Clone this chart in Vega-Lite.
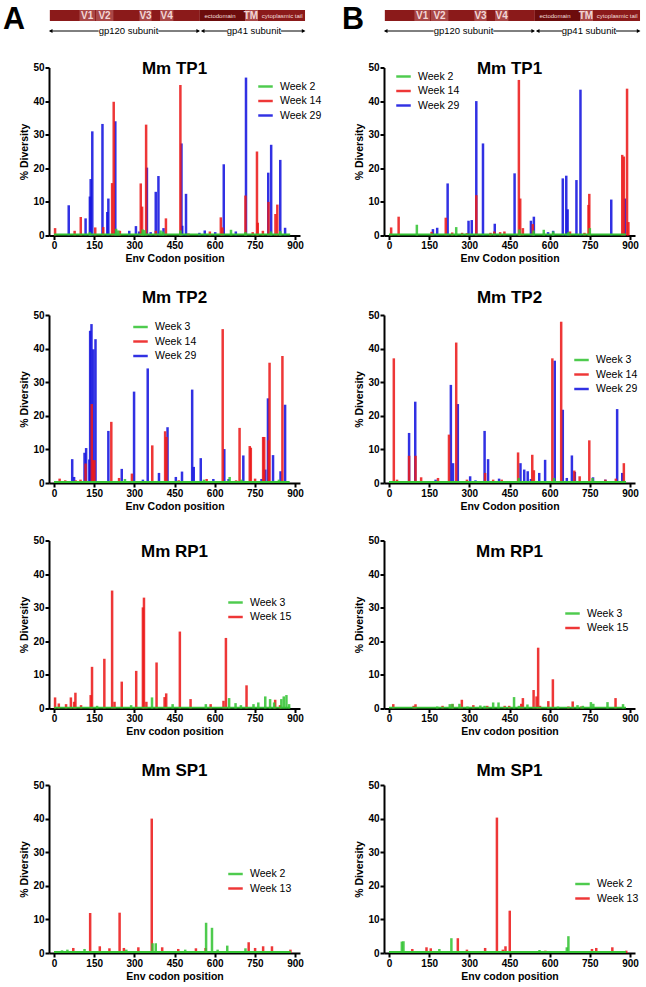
{
"$schema": "https://vega.github.io/schema/vega-lite/v6.json",
"padding": {"left": 2, "top": 0, "right": 1, "bottom": 2},
"columns": 2,
"spacing": {"row": 23.5, "column": 19},
"resolve": {"scale": {"x": "independent", "y": "independent", "color": "independent", "shape": "independent"}, "axis": {"x": "independent", "y": "independent"}, "legend": {"color": "independent", "shape": "independent"}},
"config": {
 "view": {"stroke": null},
 "font": "Liberation Sans",
 "axis": {"grid": false, "domainColor": "black", "domainWidth": 2, "tickColor": "black", "tickWidth": 2, "tickSize": 4, "labelFont": "Liberation Sans", "labelFontWeight": "bold", "labelFontSize": 10, "labelColor": "black", "labelPadding": 1, "labelFlush": false, "labelOverlap": false, "titleFont": "Liberation Sans", "titleFontWeight": "bold", "titleFontSize": 10.5, "titleColor": "black", "titlePadding": 3},
 "legend": {"labelFont": "Liberation Sans", "labelFontSize": 10.5, "labelColor": "black", "symbolType": "M-1,-0.17H1V0.17H-1Z", "symbolSize": 210, "symbolStrokeWidth": 0, "rowPadding": 1.5, "labelOffset": 7, "padding": 0},
 "title": {"font": "Liberation Sans", "fontSize": 17, "fontWeight": "bold", "color": "black"}
},
"datasets": {
 "genome": [
  {"seg": "gp120 constant", "kind": "base", "start": 3, "end": 541, "mid": 270, "label": ""},
  {"seg": "V1", "kind": "var", "start": 109, "end": 165, "mid": 137, "label": "V1"},
  {"seg": "V2", "kind": "var", "start": 168, "end": 231, "mid": 199, "label": "V2"},
  {"seg": "V3", "kind": "var", "start": 324, "end": 368, "mid": 346, "label": "V3"},
  {"seg": "V4", "kind": "var", "start": 398, "end": 446, "mid": 422, "label": "V4"},
  {"seg": "ectodomain", "kind": "ecto", "start": 541, "end": 703, "mid": 613, "label": "ectodomain"},
  {"seg": "TM", "kind": "tm", "start": 703, "end": 747, "mid": 724, "label": "TM"},
  {"seg": "cytoplasmic tail", "kind": "tail", "start": 747, "end": 918, "mid": 836, "label": "cytoplasmic tail"}
 ],
 "arrows": [
  {"subunit": "gp120", "from": 4, "to": 178},
  {"subunit": "gp120", "from": 392, "to": 537},
  {"subunit": "gp41", "from": 549, "to": 638},
  {"subunit": "gp41", "from": 832, "to": 915}
 ],
 "heads": [
  {"subunit": "gp120", "pos": 6, "dir": "left"},
  {"subunit": "gp120", "pos": 535, "dir": "right"},
  {"subunit": "gp41", "pos": 551, "dir": "left"},
  {"subunit": "gp41", "pos": 913, "dir": "right"}
 ],
 "subunits": [
  {"pos": 285, "label": "gp120 subunit"},
  {"pos": 735, "label": "gp41 subunit"}
 ],
 "floors": [
  {"panel": "tp1a", "week": "Week 2", "from": 0, "to": 882, "level": 0.6},
  {"panel": "tp1b", "week": "Week 2", "from": 0, "to": 885, "level": 0.6},
  {"panel": "tp2a", "week": "Week 3", "from": 0, "to": 880, "level": 0.6},
  {"panel": "tp2b", "week": "Week 3", "from": 0, "to": 885, "level": 0.6},
  {"panel": "rp1a", "week": "Week 3", "from": 0, "to": 882, "level": 0.5},
  {"panel": "rp1b", "week": "Week 3", "from": 0, "to": 885, "level": 0.5},
  {"panel": "sp1a", "week": "Week 2", "from": 0, "to": 885, "level": 0.6},
  {"panel": "sp1b", "week": "Week 2", "from": 0, "to": 885, "level": 0.6}
 ],
 "tp1a": [
  {"week":"Week 29","pos":55,"val":9},{"week":"Week 29","pos":118,"val":5.1},{"week":"Week 29","pos":134,"val":11.6},{"week":"Week 29","pos":137,"val":16.8},{"week":"Week 29","pos":143,"val":31},{"week":"Week 29","pos":181,"val":33.2},{"week":"Week 29","pos":199,"val":7},{"week":"Week 29","pos":203,"val":11},{"week":"Week 29","pos":229,"val":34},{"week":"Week 29","pos":281,"val":1.4},{"week":"Week 29","pos":306,"val":2.8},{"week":"Week 29","pos":318,"val":1.2},{"week":"Week 29","pos":347,"val":20.2},{"week":"Week 29","pos":361,"val":1},{"week":"Week 29","pos":380,"val":13},{"week":"Week 29","pos":390,"val":17.7},{"week":"Week 29","pos":409,"val":2.2},{"week":"Week 29","pos":476,"val":27.4},{"week":"Week 29","pos":479,"val":2.9},{"week":"Week 29","pos":493,"val":12.4},{"week":"Week 29","pos":543,"val":0.8},{"week":"Week 29","pos":563,"val":1.5},{"week":"Week 29","pos":602,"val":1},{"week":"Week 29","pos":634,"val":21.2},{"week":"Week 29","pos":679,"val":1.2},{"week":"Week 29","pos":717,"val":47},{"week":"Week 29","pos":800,"val":18.7},{"week":"Week 29","pos":811,"val":27},{"week":"Week 29","pos":845,"val":22.5},{"week":"Week 29","pos":863,"val":2.3},
  {"week":"Week 14","pos":4,"val":2.2},{"week":"Week 14","pos":77,"val":1.4},{"week":"Week 14","pos":100,"val":5.5},{"week":"Week 14","pos":154,"val":2.4},{"week":"Week 14","pos":184,"val":2.5},{"week":"Week 14","pos":217,"val":15.6},{"week":"Week 14","pos":223,"val":39.8},{"week":"Week 14","pos":246,"val":1.4},{"week":"Week 14","pos":324,"val":15.5},{"week":"Week 14","pos":329,"val":8.6},{"week":"Week 14","pos":344,"val":33},{"week":"Week 14","pos":380,"val":1.4},{"week":"Week 14","pos":418,"val":5.1},{"week":"Week 14","pos":472,"val":44.8},{"week":"Week 14","pos":502,"val":0.6},{"week":"Week 14","pos":582,"val":1.2},{"week":"Week 14","pos":623,"val":5.4},{"week":"Week 14","pos":629,"val":2.4},{"week":"Week 14","pos":715,"val":11.9},{"week":"Week 14","pos":742,"val":1},{"week":"Week 14","pos":758,"val":25},{"week":"Week 14","pos":761,"val":3.8},{"week":"Week 14","pos":780,"val":1.4},{"week":"Week 14","pos":801,"val":10},{"week":"Week 14","pos":827,"val":6.4},{"week":"Week 14","pos":834,"val":9.2},
  {"week":"Week 2","pos":134,"val":1},{"week":"Week 2","pos":232,"val":2},{"week":"Week 2","pos":240,"val":1.5},{"week":"Week 2","pos":331,"val":1.8},{"week":"Week 2","pos":338,"val":1.6},{"week":"Week 2","pos":398,"val":1.5},{"week":"Week 2","pos":407,"val":1.2},{"week":"Week 2","pos":472,"val":1.5},{"week":"Week 2","pos":661,"val":1.7},{"week":"Week 2","pos":715,"val":1},{"week":"Week 2","pos":810,"val":1.2},{"week":"Week 2","pos":845,"val":1.3}
 ],
 "tp1b": [
  {"week":"Week 29","pos":164,"val":1.9},{"week":"Week 29","pos":180,"val":2.3},{"week":"Week 29","pos":219,"val":15.5},{"week":"Week 29","pos":297,"val":4.4},{"week":"Week 29","pos":309,"val":4.6},{"week":"Week 29","pos":326,"val":40},{"week":"Week 29","pos":351,"val":27.4},{"week":"Week 29","pos":395,"val":3.5},{"week":"Week 29","pos":469,"val":18.5},{"week":"Week 29","pos":530,"val":4.4},{"week":"Week 29","pos":541,"val":5.6},{"week":"Week 29","pos":594,"val":1},{"week":"Week 29","pos":613,"val":1.4},{"week":"Week 29","pos":649,"val":17},{"week":"Week 29","pos":662,"val":17.8},{"week":"Week 29","pos":667,"val":7.8},{"week":"Week 29","pos":700,"val":16.5},{"week":"Week 29","pos":715,"val":43.4},{"week":"Week 29","pos":830,"val":10.7},{"week":"Week 29","pos":881,"val":11},
  {"week":"Week 14","pos":8,"val":2.4},{"week":"Week 14","pos":36,"val":5.6},{"week":"Week 14","pos":159,"val":1.1},{"week":"Week 14","pos":212,"val":5.3},{"week":"Week 14","pos":236,"val":0.9},{"week":"Week 14","pos":273,"val":0.8},{"week":"Week 14","pos":291,"val":0.7},{"week":"Week 14","pos":326,"val":12},{"week":"Week 14","pos":379,"val":0.8},{"week":"Week 14","pos":393,"val":1.2},{"week":"Week 14","pos":415,"val":1},{"week":"Week 14","pos":431,"val":1.2},{"week":"Week 14","pos":485,"val":46.3},{"week":"Week 14","pos":490,"val":11},{"week":"Week 14","pos":500,"val":2.2},{"week":"Week 14","pos":537,"val":3.4},{"week":"Week 14","pos":676,"val":1.2},{"week":"Week 14","pos":730,"val":0.8},{"week":"Week 14","pos":745,"val":9.1},{"week":"Week 14","pos":748,"val":12.4},{"week":"Week 14","pos":871,"val":24},{"week":"Week 14","pos":877,"val":23.5},{"week":"Week 14","pos":889,"val":43.7},{"week":"Week 14","pos":894,"val":4},
  {"week":"Week 2","pos":104,"val":3.2},{"week":"Week 2","pos":251,"val":2.5},{"week":"Week 2","pos":487,"val":1.8},{"week":"Week 2","pos":540,"val":1.5},{"week":"Week 2","pos":578,"val":1.7},{"week":"Week 2","pos":613,"val":1.2},{"week":"Week 2","pos":670,"val":1},{"week":"Week 2","pos":750,"val":2.2}
 ],
 "tp2a": [
  {"week":"Week 29","pos":68,"val":7.1},{"week":"Week 29","pos":75,"val":1.8},{"week":"Week 29","pos":114,"val":9},{"week":"Week 29","pos":120,"val":10.4},{"week":"Week 29","pos":132,"val":7},{"week":"Week 29","pos":135,"val":45.3},{"week":"Week 29","pos":140,"val":47.3},{"week":"Week 29","pos":147,"val":39.8},{"week":"Week 29","pos":155,"val":42.8},{"week":"Week 29","pos":203,"val":15.5},{"week":"Week 29","pos":253,"val":4.2},{"week":"Week 29","pos":299,"val":27.2},{"week":"Week 29","pos":332,"val":1},{"week":"Week 29","pos":350,"val":34.1},{"week":"Week 29","pos":392,"val":3},{"week":"Week 29","pos":424,"val":16.6},{"week":"Week 29","pos":455,"val":1.8},{"week":"Week 29","pos":478,"val":3.4},{"week":"Week 29","pos":516,"val":27.8},{"week":"Week 29","pos":522,"val":4.8},{"week":"Week 29","pos":548,"val":7.4},{"week":"Week 29","pos":595,"val":1.2},{"week":"Week 29","pos":636,"val":10.1},{"week":"Week 29","pos":652,"val":1.2},{"week":"Week 29","pos":707,"val":8.2},{"week":"Week 29","pos":775,"val":1.2},{"week":"Week 29","pos":789,"val":4},{"week":"Week 29","pos":799,"val":25.2},{"week":"Week 29","pos":818,"val":8.3},{"week":"Week 29","pos":846,"val":3.5},{"week":"Week 29","pos":863,"val":23.3},
  {"week":"Week 14","pos":21,"val":1.3},{"week":"Week 14","pos":42,"val":0.8},{"week":"Week 14","pos":81,"val":0.8},{"week":"Week 14","pos":99,"val":1},{"week":"Week 14","pos":118,"val":5.8},{"week":"Week 14","pos":141,"val":23.5},{"week":"Week 14","pos":146,"val":6.8},{"week":"Week 14","pos":151,"val":6.8},{"week":"Week 14","pos":214,"val":18.2},{"week":"Week 14","pos":243,"val":1.5},{"week":"Week 14","pos":291,"val":2.8},{"week":"Week 14","pos":367,"val":11.2},{"week":"Week 14","pos":415,"val":15.4},{"week":"Week 14","pos":420,"val":13.7},{"week":"Week 14","pos":466,"val":0.8},{"week":"Week 14","pos":570,"val":1.2},{"week":"Week 14","pos":630,"val":45.8},{"week":"Week 14","pos":680,"val":0.8},{"week":"Week 14","pos":693,"val":16.4},{"week":"Week 14","pos":731,"val":11},{"week":"Week 14","pos":735,"val":10.5},{"week":"Week 14","pos":751,"val":1.3},{"week":"Week 14","pos":781,"val":13.7},{"week":"Week 14","pos":785,"val":13.7},{"week":"Week 14","pos":802,"val":12.7},{"week":"Week 14","pos":805,"val":35.8},{"week":"Week 14","pos":853,"val":37.8},
  {"week":"Week 3","pos":265,"val":1.2},{"week":"Week 3","pos":560,"val":1},{"week":"Week 3","pos":656,"val":1.8},{"week":"Week 3","pos":700,"val":1},{"week":"Week 3","pos":840,"val":1}
 ],
 "tp2b": [
  {"week":"Week 29","pos":75,"val":14.9},{"week":"Week 29","pos":98,"val":24.2},{"week":"Week 29","pos":174,"val":1},{"week":"Week 29","pos":231,"val":29.2},{"week":"Week 29","pos":239,"val":5.9},{"week":"Week 29","pos":257,"val":23.5},{"week":"Week 29","pos":303,"val":2},{"week":"Week 29","pos":323,"val":0.8},{"week":"Week 29","pos":357,"val":15.5},{"week":"Week 29","pos":370,"val":7.1},{"week":"Week 29","pos":411,"val":1.3},{"week":"Week 29","pos":491,"val":5.9},{"week":"Week 29","pos":505,"val":4},{"week":"Week 29","pos":518,"val":3.5},{"week":"Week 29","pos":530,"val":1.2},{"week":"Week 29","pos":561,"val":3},{"week":"Week 29","pos":583,"val":6.9},{"week":"Week 29","pos":619,"val":36.4},{"week":"Week 29","pos":649,"val":21.8},{"week":"Week 29","pos":664,"val":1.5},{"week":"Week 29","pos":683,"val":8.2},{"week":"Week 29","pos":694,"val":3.3},{"week":"Week 29","pos":762,"val":1.7},{"week":"Week 29","pos":808,"val":1},{"week":"Week 29","pos":852,"val":22},{"week":"Week 29","pos":871,"val":3},
  {"week":"Week 14","pos":18,"val":37.1},{"week":"Week 14","pos":30,"val":1},{"week":"Week 14","pos":75,"val":8.1},{"week":"Week 14","pos":99,"val":8.1},{"week":"Week 14","pos":120,"val":1.7},{"week":"Week 14","pos":183,"val":1.5},{"week":"Week 14","pos":224,"val":14.4},{"week":"Week 14","pos":251,"val":41.8},{"week":"Week 14","pos":291,"val":1},{"week":"Week 14","pos":359,"val":3},{"week":"Week 14","pos":389,"val":1},{"week":"Week 14","pos":421,"val":1},{"week":"Week 14","pos":482,"val":9.1},{"week":"Week 14","pos":535,"val":8.4},{"week":"Week 14","pos":541,"val":3.8},{"week":"Week 14","pos":610,"val":37.1},{"week":"Week 14","pos":643,"val":48},{"week":"Week 14","pos":692,"val":3.7},{"week":"Week 14","pos":712,"val":2},{"week":"Week 14","pos":748,"val":12.7},{"week":"Week 14","pos":808,"val":1},{"week":"Week 14","pos":847,"val":1.3},{"week":"Week 14","pos":877,"val":5.9},
  {"week":"Week 3","pos":485,"val":1.5},{"week":"Week 3","pos":616,"val":1.5},{"week":"Week 3","pos":760,"val":1.5}
 ],
 "rp1a": [
  {"week":"Week 15","pos":4,"val":3.3},{"week":"Week 15","pos":18,"val":1.5},{"week":"Week 15","pos":45,"val":1.3},{"week":"Week 15","pos":63,"val":3.3},{"week":"Week 15","pos":75,"val":2},{"week":"Week 15","pos":80,"val":4.7},{"week":"Week 15","pos":101,"val":1},{"week":"Week 15","pos":137,"val":4},{"week":"Week 15","pos":142,"val":12.4},{"week":"Week 15","pos":188,"val":14.8},{"week":"Week 15","pos":217,"val":35.1},{"week":"Week 15","pos":226,"val":2},{"week":"Week 15","pos":253,"val":8},{"week":"Week 15","pos":307,"val":11.2},{"week":"Week 15","pos":332,"val":30.1},{"week":"Week 15","pos":336,"val":33},{"week":"Week 15","pos":345,"val":2},{"week":"Week 15","pos":383,"val":13.7},{"week":"Week 15","pos":413,"val":3.4},{"week":"Week 15","pos":419,"val":4.5},{"week":"Week 15","pos":470,"val":22.9},{"week":"Week 15","pos":510,"val":2.8},{"week":"Week 15","pos":585,"val":1.3},{"week":"Week 15","pos":633,"val":2.3},{"week":"Week 15","pos":642,"val":21},{"week":"Week 15","pos":719,"val":6.9},{"week":"Week 15","pos":826,"val":2.6},{"week":"Week 15","pos":844,"val":1},
  {"week":"Week 3","pos":161,"val":0.8},{"week":"Week 3","pos":288,"val":1},{"week":"Week 3","pos":366,"val":3.3},{"week":"Week 3","pos":443,"val":1.3},{"week":"Week 3","pos":567,"val":1.3},{"week":"Week 3","pos":654,"val":3.1},{"week":"Week 3","pos":678,"val":1.6},{"week":"Week 3","pos":698,"val":1},{"week":"Week 3","pos":745,"val":1.3},{"week":"Week 3","pos":763,"val":1.8},{"week":"Week 3","pos":789,"val":3.6},{"week":"Week 3","pos":807,"val":2.8},{"week":"Week 3","pos":822,"val":1.8},{"week":"Week 3","pos":849,"val":2.8},{"week":"Week 3","pos":858,"val":3.6},{"week":"Week 3","pos":868,"val":4},{"week":"Week 3","pos":878,"val":1.3}
 ],
 "rp1b": [
  {"week":"Week 15","pos":16,"val":1.3},{"week":"Week 15","pos":92,"val":0.8},{"week":"Week 15","pos":99,"val":1.3},{"week":"Week 15","pos":200,"val":0.8},{"week":"Week 15","pos":237,"val":1.3},{"week":"Week 15","pos":272,"val":2.6},{"week":"Week 15","pos":315,"val":1},{"week":"Week 15","pos":367,"val":0.8},{"week":"Week 15","pos":432,"val":0.8},{"week":"Week 15","pos":449,"val":0.8},{"week":"Week 15","pos":494,"val":1.4},{"week":"Week 15","pos":500,"val":3.1},{"week":"Week 15","pos":540,"val":5.5},{"week":"Week 15","pos":551,"val":3.6},{"week":"Week 15","pos":557,"val":18.1},{"week":"Week 15","pos":564,"val":0.8},{"week":"Week 15","pos":595,"val":2.2},{"week":"Week 15","pos":612,"val":8.7},{"week":"Week 15","pos":670,"val":0.6},{"week":"Week 15","pos":686,"val":2.1},{"week":"Week 15","pos":718,"val":0.6},{"week":"Week 15","pos":846,"val":3.1},
  {"week":"Week 3","pos":180,"val":0.6},{"week":"Week 3","pos":227,"val":1.3},{"week":"Week 3","pos":237,"val":1.4},{"week":"Week 3","pos":263,"val":1.4},{"week":"Week 3","pos":293,"val":0.6},{"week":"Week 3","pos":341,"val":0.9},{"week":"Week 3","pos":357,"val":0.8},{"week":"Week 3","pos":389,"val":1.8},{"week":"Week 3","pos":409,"val":1.8},{"week":"Week 3","pos":467,"val":3.4},{"week":"Week 3","pos":485,"val":0.8},{"week":"Week 3","pos":517,"val":1.2},{"week":"Week 3","pos":631,"val":0.6},{"week":"Week 3","pos":704,"val":1},{"week":"Week 3","pos":724,"val":0.8},{"week":"Week 3","pos":754,"val":1.9},{"week":"Week 3","pos":763,"val":1.4},{"week":"Week 3","pos":816,"val":1.9},{"week":"Week 3","pos":874,"val":1.3}
 ],
 "sp1a": [
  {"week":"Week 13","pos":72,"val":1.5},{"week":"Week 13","pos":135,"val":11.9},{"week":"Week 13","pos":171,"val":2},{"week":"Week 13","pos":207,"val":1.4},{"week":"Week 13","pos":245,"val":12},{"week":"Week 13","pos":261,"val":1.5},{"week":"Week 13","pos":315,"val":1.7},{"week":"Week 13","pos":365,"val":40},{"week":"Week 13","pos":404,"val":1.7},{"week":"Week 13","pos":464,"val":1.2},{"week":"Week 13","pos":530,"val":1.4},{"week":"Week 13","pos":566,"val":1.5},{"week":"Week 13","pos":727,"val":3.2},{"week":"Week 13","pos":751,"val":1.5},{"week":"Week 13","pos":781,"val":2},{"week":"Week 13","pos":814,"val":2},{"week":"Week 13","pos":883,"val":1},
  {"week":"Week 2","pos":30,"val":0.8},{"week":"Week 2","pos":50,"val":1},{"week":"Week 2","pos":114,"val":1.2},{"week":"Week 2","pos":270,"val":1},{"week":"Week 2","pos":368,"val":2.9},{"week":"Week 2","pos":380,"val":2.9},{"week":"Week 2","pos":490,"val":1},{"week":"Week 2","pos":568,"val":9},{"week":"Week 2","pos":590,"val":7.5},{"week":"Week 2","pos":611,"val":1},{"week":"Week 2","pos":647,"val":2.2},{"week":"Week 2","pos":715,"val":1.4}
 ],
 "sp1b": [
  {"week":"Week 13","pos":87,"val":1.2},{"week":"Week 13","pos":140,"val":1.7},{"week":"Week 13","pos":156,"val":1.4},{"week":"Week 13","pos":257,"val":4.4},{"week":"Week 13","pos":291,"val":1},{"week":"Week 13","pos":359,"val":1.5},{"week":"Week 13","pos":403,"val":40.3},{"week":"Week 13","pos":425,"val":1},{"week":"Week 13","pos":435,"val":2},{"week":"Week 13","pos":451,"val":12.6},{"week":"Week 13","pos":584,"val":0.7},{"week":"Week 13","pos":736,"val":0.5},{"week":"Week 13","pos":758,"val":1.2},{"week":"Week 13","pos":774,"val":1.5},{"week":"Week 13","pos":834,"val":1.7},{"week":"Week 13","pos":886,"val":0.7},
  {"week":"Week 2","pos":48,"val":3.4},{"week":"Week 2","pos":54,"val":3.5},{"week":"Week 2","pos":188,"val":1.2},{"week":"Week 2","pos":233,"val":4.4},{"week":"Week 2","pos":562,"val":0.9},{"week":"Week 2","pos":664,"val":1.7},{"week":"Week 2","pos":670,"val":5}
 ]
},
"concat": [
 {"width": 251, "height": 36,
  "layer": [
   {"data": {"name": "genome"}, "mark": {"type": "bar"},
    "encoding": {"x": {"field": "start", "type": "quantitative", "scale": {"domain": [0, 900], "nice": false, "zero": false}, "axis": null}, "x2": {"field": "end"},
     "y": {"datum": 10, "type": "quantitative", "scale": {"domain": [0, 36], "reverse": true, "nice": false, "zero": false}, "axis": null}, "y2": {"datum": 21},
     "color": {"field": "kind", "type": "nominal", "scale": {"domain": ["base", "var", "ecto", "tm", "tail"], "range": ["#8b1a1a", "#a94747", "#6c0c0c", "#a94747", "#8b1a1a"]}, "legend": null}}},
   {"data": {"name": "genome"}, "transform": [{"filter": "datum.kind === 'var' || datum.kind === 'tm'"}],
    "mark": {"type": "text", "font": "Liberation Sans", "fontWeight": "bold", "fontSize": 10, "color": "#f3d6d6", "baseline": "middle"},
    "encoding": {"x": {"field": "mid", "type": "quantitative"}, "y": {"datum": 15.8}, "text": {"field": "label"}}},
   {"data": {"name": "genome"}, "transform": [{"filter": "datum.kind === 'ecto' || datum.kind === 'tail'"}],
    "mark": {"type": "text", "font": "Liberation Sans", "fontSize": 6, "color": "#f3dede", "baseline": "middle"},
    "encoding": {"x": {"field": "mid", "type": "quantitative"}, "y": {"datum": 15.8}, "text": {"field": "label"}}},
   {"data": {"name": "arrows"}, "mark": {"type": "rule", "color": "black", "strokeWidth": 1},
    "encoding": {"x": {"field": "from", "type": "quantitative"}, "x2": {"field": "to"}, "y": {"datum": 31}}},
   {"data": {"name": "heads"}, "mark": {"type": "point", "filled": true, "color": "black", "size": 18, "opacity": 1},
    "encoding": {"x": {"field": "pos", "type": "quantitative"}, "y": {"datum": 31}, "shape": {"field": "dir", "type": "nominal", "scale": {"domain": ["left", "right"], "range": ["triangle-left", "triangle-right"]}, "legend": null}}},
   {"data": {"name": "subunits"}, "mark": {"type": "text", "font": "Liberation Sans", "fontSize": 9.5, "color": "black", "baseline": "middle"},
    "encoding": {"x": {"field": "pos", "type": "quantitative"}, "y": {"datum": 31}, "text": {"field": "label"}}},
   {"data": {"values": [{}]}, "mark": {"type": "text", "text": "A", "font": "Liberation Sans", "fontWeight": "bold", "fontSize": 30.5, "align": "left", "baseline": "alphabetic", "color": "black"},
    "encoding": {"x": {"datum": -165}, "y": {"datum": 28.5}}}
  ]},
 {"width": 251, "height": 36,
  "layer": [
   {"data": {"name": "genome"}, "mark": {"type": "bar"},
    "encoding": {"x": {"field": "start", "type": "quantitative", "scale": {"domain": [0, 900], "nice": false, "zero": false}, "axis": null}, "x2": {"field": "end"},
     "y": {"datum": 10, "type": "quantitative", "scale": {"domain": [0, 36], "reverse": true, "nice": false, "zero": false}, "axis": null}, "y2": {"datum": 21},
     "color": {"field": "kind", "type": "nominal", "scale": {"domain": ["base", "var", "ecto", "tm", "tail"], "range": ["#8b1a1a", "#a94747", "#6c0c0c", "#a94747", "#8b1a1a"]}, "legend": null}}},
   {"data": {"name": "genome"}, "transform": [{"filter": "datum.kind === 'var' || datum.kind === 'tm'"}],
    "mark": {"type": "text", "font": "Liberation Sans", "fontWeight": "bold", "fontSize": 10, "color": "#f3d6d6", "baseline": "middle"},
    "encoding": {"x": {"field": "mid", "type": "quantitative"}, "y": {"datum": 15.8}, "text": {"field": "label"}}},
   {"data": {"name": "genome"}, "transform": [{"filter": "datum.kind === 'ecto' || datum.kind === 'tail'"}],
    "mark": {"type": "text", "font": "Liberation Sans", "fontSize": 6, "color": "#f3dede", "baseline": "middle"},
    "encoding": {"x": {"field": "mid", "type": "quantitative"}, "y": {"datum": 15.8}, "text": {"field": "label"}}},
   {"data": {"name": "arrows"}, "mark": {"type": "rule", "color": "black", "strokeWidth": 1},
    "encoding": {"x": {"field": "from", "type": "quantitative"}, "x2": {"field": "to"}, "y": {"datum": 31}}},
   {"data": {"name": "heads"}, "mark": {"type": "point", "filled": true, "color": "black", "size": 18, "opacity": 1},
    "encoding": {"x": {"field": "pos", "type": "quantitative"}, "y": {"datum": 31}, "shape": {"field": "dir", "type": "nominal", "scale": {"domain": ["left", "right"], "range": ["triangle-left", "triangle-right"]}, "legend": null}}},
   {"data": {"name": "subunits"}, "mark": {"type": "text", "font": "Liberation Sans", "fontSize": 9.5, "color": "black", "baseline": "middle"},
    "encoding": {"x": {"field": "pos", "type": "quantitative"}, "y": {"datum": 31}, "text": {"field": "label"}}},
   {"data": {"values": [{}]}, "mark": {"type": "text", "text": "B", "font": "Liberation Sans", "fontWeight": "bold", "fontSize": 30.5, "align": "left", "baseline": "alphabetic", "color": "black"},
    "encoding": {"x": {"datum": -150.6}, "y": {"datum": 28.5}}}
  ]},
 {"width": 251, "height": 168, "title": {"text": "Mm TP1", "offset": -15.5},
  "layer": [
   {"data": {"name": "tp1a"}, "mark": {"type": "bar", "orient": "vertical", "width": 2.5, "opacity": 0.88},
    "encoding": {"x": {"field": "pos", "type": "quantitative", "scale": {"domain": [0, 900], "nice": false, "zero": false}, "axis": {"values": [0, 150, 300, 450, 600, 750, 900], "labelOverlap": false, "title": "Env Codon position"}},
     "y": {"field": "val", "type": "quantitative", "stack": null, "scale": {"domain": [0, 50], "nice": false}, "axis": {"values": [0, 10, 20, 30, 40, 50], "tickCount": 6, "labelOverlap": false, "title": "% Diversity"}},
     "color": {"field": "week", "type": "nominal", "scale": {"domain": ["Week 2", "Week 14", "Week 29"], "range": ["#35c435", "#ec1b1b", "#1515df"]}, "legend": {"title": null, "orient": "none", "legendX": 209, "legendY": 11.5}}}},
   {"data": {"name": "floors"}, "transform": [{"filter": "datum.panel === 'tp1a'"}], "mark": {"type": "bar", "orient": "vertical"},
    "encoding": {"x": {"field": "from", "type": "quantitative"}, "x2": {"field": "to"}, "y": {"field": "level", "type": "quantitative", "stack": null, "axis": {"values": [0, 10, 20, 30, 40, 50], "tickCount": 6, "labelOverlap": false, "title": "% Diversity"}}, "y2": {"datum": 0}, "color": {"field": "week", "type": "nominal"}}},
   {"data": {"values": [{}]}, "mark": {"type": "point", "opacity": 0, "size": 1}, "encoding": {"x": {"datum": -165}}}
  ]},
 {"width": 251, "height": 168, "title": {"text": "Mm TP1", "offset": -15.5},
  "layer": [
   {"data": {"name": "tp1b"}, "mark": {"type": "bar", "orient": "vertical", "width": 2.5, "opacity": 0.88},
    "encoding": {"x": {"field": "pos", "type": "quantitative", "scale": {"domain": [0, 900], "nice": false, "zero": false}, "axis": {"values": [0, 150, 300, 450, 600, 750, 900], "labelOverlap": false, "title": "Env Codon position"}},
     "y": {"field": "val", "type": "quantitative", "stack": null, "scale": {"domain": [0, 50], "nice": false}, "axis": {"values": [0, 10, 20, 30, 40, 50], "tickCount": 6, "labelOverlap": false, "title": "% Diversity"}},
     "color": {"field": "week", "type": "nominal", "scale": {"domain": ["Week 2", "Week 14", "Week 29"], "range": ["#35c435", "#ec1b1b", "#1515df"]}, "legend": {"title": null, "orient": "none", "legendX": 12, "legendY": 1.5}}}},
   {"data": {"name": "floors"}, "transform": [{"filter": "datum.panel === 'tp1b'"}], "mark": {"type": "bar", "orient": "vertical"},
    "encoding": {"x": {"field": "from", "type": "quantitative"}, "x2": {"field": "to"}, "y": {"field": "level", "type": "quantitative", "stack": null, "axis": {"values": [0, 10, 20, 30, 40, 50], "tickCount": 6, "labelOverlap": false, "title": "% Diversity"}}, "y2": {"datum": 0}, "color": {"field": "week", "type": "nominal"}}},
   {"data": {"values": [{}]}, "mark": {"type": "point", "opacity": 0, "size": 1}, "encoding": {"x": {"datum": -150.6}}}
  ]},
 {"width": 251, "height": 168, "title": {"text": "Mm TP2", "offset": 3.5},
  "layer": [
   {"data": {"name": "tp2a"}, "mark": {"type": "bar", "orient": "vertical", "width": 2.5, "opacity": 0.88},
    "encoding": {"x": {"field": "pos", "type": "quantitative", "scale": {"domain": [0, 900], "nice": false, "zero": false}, "axis": {"values": [0, 150, 300, 450, 600, 750, 900], "labelOverlap": false, "title": "Env Codon position"}},
     "y": {"field": "val", "type": "quantitative", "stack": null, "scale": {"domain": [0, 50], "nice": false}, "axis": {"values": [0, 10, 20, 30, 40, 50], "tickCount": 6, "labelOverlap": false, "title": "% Diversity"}},
     "color": {"field": "week", "type": "nominal", "scale": {"domain": ["Week 3", "Week 14", "Week 29"], "range": ["#35c435", "#ec1b1b", "#1515df"]}, "legend": {"title": null, "orient": "none", "legendX": 84, "legendY": 4.5}}}},
   {"data": {"name": "floors"}, "transform": [{"filter": "datum.panel === 'tp2a'"}], "mark": {"type": "bar", "orient": "vertical"},
    "encoding": {"x": {"field": "from", "type": "quantitative"}, "x2": {"field": "to"}, "y": {"field": "level", "type": "quantitative", "stack": null, "axis": {"values": [0, 10, 20, 30, 40, 50], "tickCount": 6, "labelOverlap": false, "title": "% Diversity"}}, "y2": {"datum": 0}, "color": {"field": "week", "type": "nominal"}}},
   {"data": {"values": [{}]}, "mark": {"type": "point", "opacity": 0, "size": 1}, "encoding": {"x": {"datum": -165}}}
  ]},
 {"width": 251, "height": 168, "title": {"text": "Mm TP2", "offset": 3.5},
  "layer": [
   {"data": {"name": "tp2b"}, "mark": {"type": "bar", "orient": "vertical", "width": 2.5, "opacity": 0.88},
    "encoding": {"x": {"field": "pos", "type": "quantitative", "scale": {"domain": [0, 900], "nice": false, "zero": false}, "axis": {"values": [0, 150, 300, 450, 600, 750, 900], "labelOverlap": false, "title": "Env Codon position"}},
     "y": {"field": "val", "type": "quantitative", "stack": null, "scale": {"domain": [0, 50], "nice": false}, "axis": {"values": [0, 10, 20, 30, 40, 50], "tickCount": 6, "labelOverlap": false, "title": "% Diversity"}},
     "color": {"field": "week", "type": "nominal", "scale": {"domain": ["Week 3", "Week 14", "Week 29"], "range": ["#35c435", "#ec1b1b", "#1515df"]}, "legend": {"title": null, "orient": "none", "legendX": 190, "legendY": 37.5}}}},
   {"data": {"name": "floors"}, "transform": [{"filter": "datum.panel === 'tp2b'"}], "mark": {"type": "bar", "orient": "vertical"},
    "encoding": {"x": {"field": "from", "type": "quantitative"}, "x2": {"field": "to"}, "y": {"field": "level", "type": "quantitative", "stack": null, "axis": {"values": [0, 10, 20, 30, 40, 50], "tickCount": 6, "labelOverlap": false, "title": "% Diversity"}}, "y2": {"datum": 0}, "color": {"field": "week", "type": "nominal"}}},
   {"data": {"values": [{}]}, "mark": {"type": "point", "opacity": 0, "size": 1}, "encoding": {"x": {"datum": -150.6}}}
  ]},
 {"width": 251, "height": 168, "title": {"text": "Mm RP1", "offset": -25.5},
  "layer": [
   {"data": {"name": "rp1a"}, "mark": {"type": "bar", "orient": "vertical", "width": 2.5, "opacity": 0.88},
    "encoding": {"x": {"field": "pos", "type": "quantitative", "scale": {"domain": [0, 900], "nice": false, "zero": false}, "axis": {"values": [0, 150, 300, 450, 600, 750, 900], "labelOverlap": false, "title": "Env codon position"}},
     "y": {"field": "val", "type": "quantitative", "stack": null, "scale": {"domain": [0, 50], "nice": false}, "axis": {"values": [0, 10, 20, 30, 40, 50], "tickCount": 6, "labelOverlap": false, "title": "% Diversity"}},
     "color": {"field": "week", "type": "nominal", "scale": {"domain": ["Week 3", "Week 15"], "range": ["#35c435", "#ec1b1b"]}, "legend": {"title": null, "orient": "none", "legendX": 179, "legendY": 54.5}}}},
   {"data": {"name": "floors"}, "transform": [{"filter": "datum.panel === 'rp1a'"}], "mark": {"type": "bar", "orient": "vertical"},
    "encoding": {"x": {"field": "from", "type": "quantitative"}, "x2": {"field": "to"}, "y": {"field": "level", "type": "quantitative", "stack": null, "axis": {"values": [0, 10, 20, 30, 40, 50], "tickCount": 6, "labelOverlap": false, "title": "% Diversity"}}, "y2": {"datum": 0}, "color": {"field": "week", "type": "nominal"}}},
   {"data": {"values": [{}]}, "mark": {"type": "point", "opacity": 0, "size": 1}, "encoding": {"x": {"datum": -165}}}
  ]},
 {"width": 251, "height": 168, "title": {"text": "Mm RP1", "offset": -25.5},
  "layer": [
   {"data": {"name": "rp1b"}, "mark": {"type": "bar", "orient": "vertical", "width": 2.5, "opacity": 0.88},
    "encoding": {"x": {"field": "pos", "type": "quantitative", "scale": {"domain": [0, 900], "nice": false, "zero": false}, "axis": {"values": [0, 150, 300, 450, 600, 750, 900], "labelOverlap": false, "title": "Env codon position"}},
     "y": {"field": "val", "type": "quantitative", "stack": null, "scale": {"domain": [0, 50], "nice": false}, "axis": {"values": [0, 10, 20, 30, 40, 50], "tickCount": 6, "labelOverlap": false, "title": "% Diversity"}},
     "color": {"field": "week", "type": "nominal", "scale": {"domain": ["Week 3", "Week 15"], "range": ["#35c435", "#ec1b1b"]}, "legend": {"title": null, "orient": "none", "legendX": 181, "legendY": 65.5}}}},
   {"data": {"name": "floors"}, "transform": [{"filter": "datum.panel === 'rp1b'"}], "mark": {"type": "bar", "orient": "vertical"},
    "encoding": {"x": {"field": "from", "type": "quantitative"}, "x2": {"field": "to"}, "y": {"field": "level", "type": "quantitative", "stack": null, "axis": {"values": [0, 10, 20, 30, 40, 50], "tickCount": 6, "labelOverlap": false, "title": "% Diversity"}}, "y2": {"datum": 0}, "color": {"field": "week", "type": "nominal"}}},
   {"data": {"values": [{}]}, "mark": {"type": "point", "opacity": 0, "size": 1}, "encoding": {"x": {"datum": -150.6}}}
  ]},
 {"width": 251, "height": 168, "title": {"text": "Mm SP1", "offset": 0.5},
  "layer": [
   {"data": {"name": "sp1a"}, "mark": {"type": "bar", "orient": "vertical", "width": 2.5, "opacity": 0.88},
    "encoding": {"x": {"field": "pos", "type": "quantitative", "scale": {"domain": [0, 900], "nice": false, "zero": false}, "axis": {"values": [0, 150, 300, 450, 600, 750, 900], "labelOverlap": false, "title": "Env codon position"}},
     "y": {"field": "val", "type": "quantitative", "stack": null, "scale": {"domain": [0, 50], "nice": false}, "axis": {"values": [0, 10, 20, 30, 40, 50], "tickCount": 6, "labelOverlap": false, "title": "% Diversity"}},
     "color": {"field": "week", "type": "nominal", "scale": {"domain": ["Week 2", "Week 13"], "range": ["#35c435", "#ec1b1b"]}, "legend": {"title": null, "orient": "none", "legendX": 179, "legendY": 81.5}}}},
   {"data": {"name": "floors"}, "transform": [{"filter": "datum.panel === 'sp1a'"}], "mark": {"type": "bar", "orient": "vertical"},
    "encoding": {"x": {"field": "from", "type": "quantitative"}, "x2": {"field": "to"}, "y": {"field": "level", "type": "quantitative", "stack": null, "axis": {"values": [0, 10, 20, 30, 40, 50], "tickCount": 6, "labelOverlap": false, "title": "% Diversity"}}, "y2": {"datum": 0}, "color": {"field": "week", "type": "nominal"}}},
   {"data": {"values": [{}]}, "mark": {"type": "point", "opacity": 0, "size": 1}, "encoding": {"x": {"datum": -165}}}
  ]},
 {"width": 251, "height": 168, "title": {"text": "Mm SP1", "offset": 0.5},
  "layer": [
   {"data": {"name": "sp1b"}, "mark": {"type": "bar", "orient": "vertical", "width": 2.5, "opacity": 0.88},
    "encoding": {"x": {"field": "pos", "type": "quantitative", "scale": {"domain": [0, 900], "nice": false, "zero": false}, "axis": {"values": [0, 150, 300, 450, 600, 750, 900], "labelOverlap": false, "title": "Env codon position"}},
     "y": {"field": "val", "type": "quantitative", "stack": null, "scale": {"domain": [0, 50], "nice": false}, "axis": {"values": [0, 10, 20, 30, 40, 50], "tickCount": 6, "labelOverlap": false, "title": "% Diversity"}},
     "color": {"field": "week", "type": "nominal", "scale": {"domain": ["Week 2", "Week 13"], "range": ["#35c435", "#ec1b1b"]}, "legend": {"title": null, "orient": "none", "legendX": 191, "legendY": 91.5}}}},
   {"data": {"name": "floors"}, "transform": [{"filter": "datum.panel === 'sp1b'"}], "mark": {"type": "bar", "orient": "vertical"},
    "encoding": {"x": {"field": "from", "type": "quantitative"}, "x2": {"field": "to"}, "y": {"field": "level", "type": "quantitative", "stack": null, "axis": {"values": [0, 10, 20, 30, 40, 50], "tickCount": 6, "labelOverlap": false, "title": "% Diversity"}}, "y2": {"datum": 0}, "color": {"field": "week", "type": "nominal"}}},
   {"data": {"values": [{}]}, "mark": {"type": "point", "opacity": 0, "size": 1}, "encoding": {"x": {"datum": -150.6}}}
  ]}
]
}
